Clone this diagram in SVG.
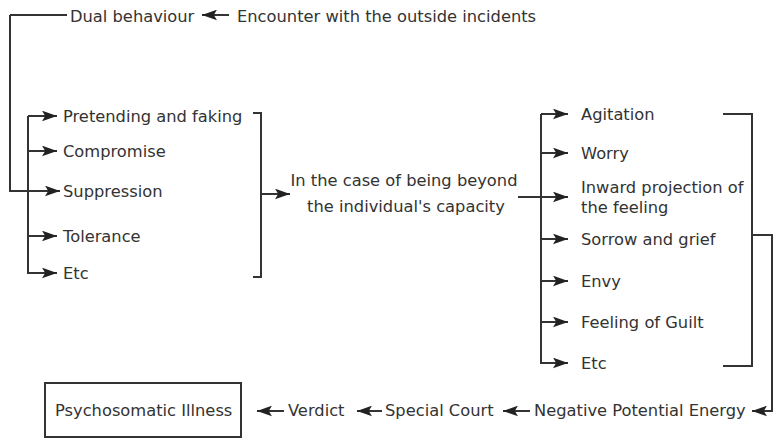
<svg xmlns="http://www.w3.org/2000/svg" width="775" height="441" viewBox="0 0 775 441">
<defs>
<style>
text{font-family:"DejaVu Sans",sans-serif;font-size:16.3px;fill:#333}
.c{fill:none;stroke:#333;stroke-width:2}
.mid{text-anchor:middle}
</style>
<marker id="ah" viewBox="0 0 14 10" refX="14" refY="5" markerWidth="15" markerHeight="11" orient="auto" markerUnits="userSpaceOnUse"><path d="M0,0 L14,5 L0,10 L3,5 z" fill="#222"/></marker>
</defs>
<rect width="775" height="441" fill="#fff"/>
<g id="connectors">
<path class="c" d="M10,15 H67"/>
<path class="c" d="M10,15 V191 H60" marker-end="url(#ah)"/>
<path class="c" d="M229,15 H202" marker-end="url(#ah)"/>
<path class="c" d="M28,116 V274"/>
<path class="c" d="M28,116 H57" marker-end="url(#ah)"/>
<path class="c" d="M28,151 H57" marker-end="url(#ah)"/>
<path class="c" d="M28,236 H57" marker-end="url(#ah)"/>
<path class="c" d="M28,273 H57" marker-end="url(#ah)"/>
<path class="c" d="M253,113 H261 V277 H253"/>
<path class="c" d="M261,194 H290" marker-end="url(#ah)"/>
<path class="c" d="M518,197 H568" marker-end="url(#ah)"/>
<path class="c" d="M541,114 V364"/>
<path class="c" d="M541,114 H568" marker-end="url(#ah)"/>
<path class="c" d="M541,153 H568" marker-end="url(#ah)"/>
<path class="c" d="M541,239 H568" marker-end="url(#ah)"/>
<path class="c" d="M541,281 H568" marker-end="url(#ah)"/>
<path class="c" d="M541,322 H568" marker-end="url(#ah)"/>
<path class="c" d="M541,363 H568" marker-end="url(#ah)"/>
<path class="c" d="M723,114 H752 V366 H723"/>
<path class="c" d="M752,235 H772 V411 H752" marker-end="url(#ah)"/>
<path class="c" d="M530,411 H503" marker-end="url(#ah)"/>
<path class="c" d="M382,411 H357" marker-end="url(#ah)"/>
<path class="c" d="M284,411 H257" marker-end="url(#ah)"/>
</g>
<g id="dual"><text x="70" y="22">Dual behaviour</text></g>
<g id="encounter"><text x="237" y="22">Encounter with the outside incidents</text></g>
<g id="pretending"><text x="63" y="122">Pretending and faking</text></g>
<g id="compromise"><text x="63" y="157">Compromise</text></g>
<g id="suppression"><text x="63" y="197">Suppression</text></g>
<g id="tolerance"><text x="63" y="242">Tolerance</text></g>
<g id="etc1"><text x="63" y="279">Etc</text></g>
<g id="beyond"><text class="mid" x="404" y="186">In the case of being beyond</text><text class="mid" x="406" y="212">the individual's capacity</text></g>
<g id="agitation"><text x="581" y="120">Agitation</text></g>
<g id="worry"><text x="581" y="159">Worry</text></g>
<g id="inward"><text x="581" y="193">Inward projection of</text><text x="581" y="213">the feeling</text></g>
<g id="sorrow"><text x="581" y="245">Sorrow and grief</text></g>
<g id="envy"><text x="581" y="287">Envy</text></g>
<g id="guilt"><text x="581" y="328">Feeling of Guilt</text></g>
<g id="etc2"><text x="581" y="369">Etc</text></g>
<g id="negative"><text x="534" y="416">Negative Potential Energy</text></g>
<g id="court"><text x="385" y="416">Special Court</text></g>
<g id="verdict"><text x="288" y="416">Verdict</text></g>
<g id="illness"><rect x="45" y="383" width="196" height="54" fill="none" stroke="#333" stroke-width="2"/><text x="55" y="416">Psychosomatic Illness</text></g>
</svg>
